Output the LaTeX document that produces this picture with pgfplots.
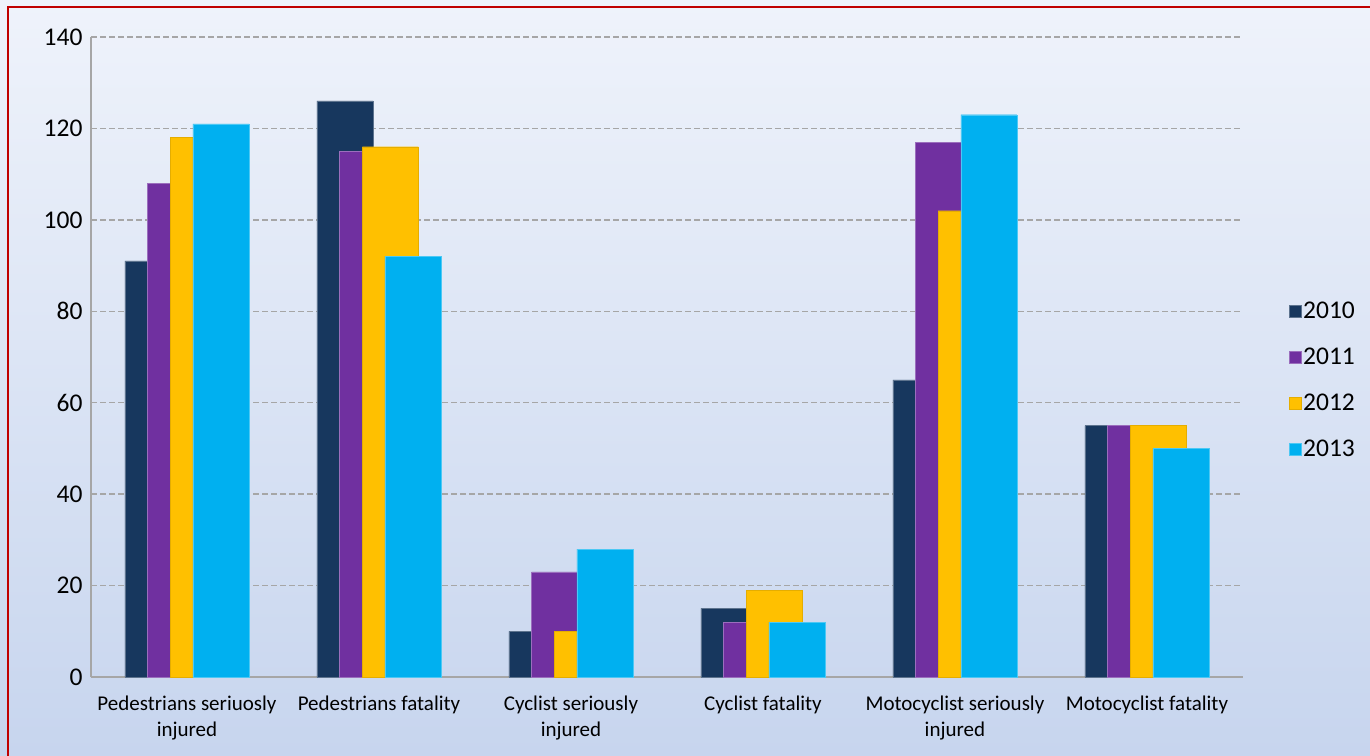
\documentclass[border=0pt]{standalone}
\usepackage{pgfplots}
\pgfplotsset{compat=1.18}
\usepackage{fontspec}
\setmainfont{Carlito}

\definecolor{bgtop}{RGB}{239,243,251}
\definecolor{bgbot}{RGB}{199,213,238}
\definecolor{frame}{RGB}{192,0,0}
\definecolor{c2010}{RGB}{23,55,94}
\definecolor{c2011}{RGB}{112,48,160}
\definecolor{c2012}{RGB}{255,192,0}
\definecolor{c2013}{RGB}{0,176,240}
\definecolor{gridc}{RGB}{166,166,166}

\begin{document}
\begin{tikzpicture}
% page frame: axis box sits at (0,0) -- (1152pt,640pt)
\useasboundingbox (-91pt,-78pt) rectangle (1279pt,677pt);
\shade[top color=bgtop, bottom color=bgbot] (-91pt,-78pt) rectangle (1279pt,677pt);
\draw[frame, line width=2pt] (-83pt,-80pt) -- (-83pt,670pt) -- (1282pt,670pt);

\begin{axis}[
    scale only axis,
    width=1152pt, height=640pt,
    xmin=-0.5, xmax=5.5,
    ymin=0, ymax=140,
    ytick={0,20,...,140},
    xtick={0,...,5},
    xticklabels={Pedestrians seriuosly\\injured, Pedestrians fatality,
        Cyclist seriously\\injured, Cyclist fatality,
        Motocyclist seriously\\injured, Motocyclist fatality},
    x tick label style={font=\fontsize{21}{26}\selectfont, align=center,
        anchor=north, yshift=-15pt},
    y tick label style={font=\fontsize{25.5}{30}\selectfont, xshift=-5pt},
    /pgf/number format/assume math mode=true,
    axis lines*=left,
    axis line style={gridc, line width=1.5pt},
    x axis line style={-},
    y axis line style={-},
    major tick length=0pt,
    ymajorgrids,
    major grid style={gridc, dash pattern=on 6pt off 3pt, line width=1.4pt},
    ybar, bar width=0.292,
    legend style={at={(1.037,0.464)}, anchor=west, draw=none, fill=none,
        font=\fontsize{25.5}{30}\selectfont, row sep=24pt},
    legend image code/.code={\fill[#1] (0pt,-6pt) rectangle (12pt,6pt);},
]
\addplot[fill=c2010, draw=c2010!70!white, bar shift=-0.177] coordinates {(0,91) (1,126) (2,10) (3,15) (4,65) (5,55)};
\addlegendentry{2010}
\addplot[fill=c2011, draw=c2011!70!white, bar shift=-0.059] coordinates {(0,108) (1,115) (2,23) (3,12) (4,117) (5,55)};
\addlegendentry{2011}
\addplot[fill=c2012, draw=c2012!90!black, bar shift=0.059] coordinates {(0,118) (1,116) (2,10) (3,19) (4,102) (5,55)};
\addlegendentry{2012}
\addplot[fill=c2013, draw=c2013!70!white, bar shift=0.177] coordinates {(0,121) (1,92) (2,28) (3,12) (4,123) (5,50)};
\addlegendentry{2013}
\end{axis}
\end{tikzpicture}
\end{document}
